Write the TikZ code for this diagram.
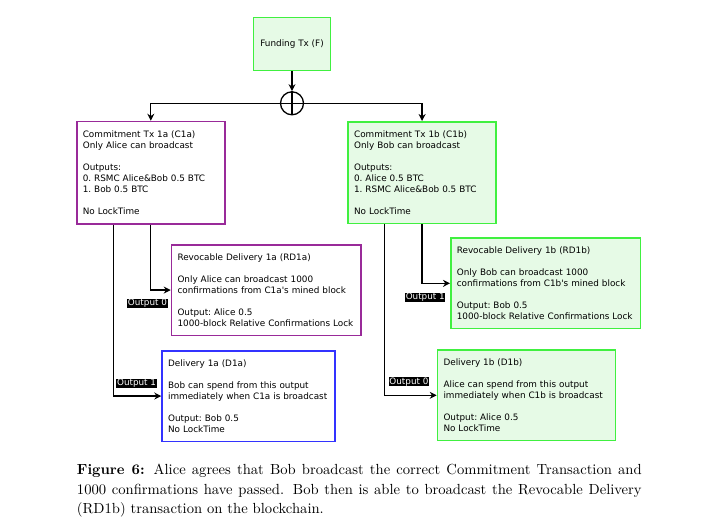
\documentclass[tikz,border=0pt]{standalone}
\usepackage{fontspec}
\newfontfamily\diagfont{DejaVu Sans}
\usetikzlibrary{calc,arrows.meta}

\definecolor{txgreen}{HTML}{40F040}
\definecolor{txgreenfill}{HTML}{E6FAE6}
\definecolor{txpurple}{HTML}{992A99}
\definecolor{txblue}{HTML}{3333FF}

\tikzset{%
	every tx/.style={
		draw,
		line width=1.6pt,
		anchor=north west,
		align=left,
		inner xsep=6pt,
		font=\diagfont\frenchspacing\fontsize{8.85}{11}\selectfont
	},
	tx green/.style={draw=txgreen, fill=txgreenfill},
	tx purple/.style={draw=txpurple, fill=white},
	tx blue/.style={draw=txblue, fill=white},
	output tag/.style={
		fill=black,
		text=white,
		inner xsep=0.6pt,
		inner ysep=0.3pt,
		font=\diagfont\fontsize{8.8}{9}\selectfont
	},
	caption text/.style={
		anchor=north west,
		inner sep=0pt,
		transform shape,
		scale=1.463,
		text width=386pt,
		align=justify,
		font=\fontsize{10}{13.1}\selectfont
	},
}

\begin{document}
\begin{tikzpicture}[x=1pt, y=-1pt, >={Stealth[length=7pt,width=7pt]}, line width=1.3pt]
	
	\useasboundingbox (0,0) rectangle (720,524);
	
	\node [every tx, tx green, anchor=center, align=center, minimum width=77pt, minimum height=53pt] (funding) at (292,44) {Funding Tx (F)};
	
	\node [draw, circle, minimum size=23pt, inner sep=0pt] (join) at (292,103.3) {};
	
	\node [every tx, tx purple, text width=136pt, minimum height=102.5pt] (c1a) at (76,120.7)
	{Commitment Tx 1a (C1a)\\Only Alice can broadcast\\[11pt]Outputs:\\0. RSMC Alice\&Bob 0.5 BTC\\1. Bob 0.5 BTC\\[11pt]No LockTime};
	
	\node [every tx, tx green, text width=136pt, minimum height=101.7pt] (c1b) at (347.3,121)
	{Commitment Tx 1b (C1b)\\Only Bob can broadcast\\[11pt]Outputs:\\0. Alice 0.5 BTC\\1. RSMC Alice\&Bob 0.5 BTC\\[11pt]No LockTime};
	
	\node [every tx, tx purple, text width=177.5pt, minimum height=90.5pt] (rd1a) at (170.7,244)
	{Revocable Delivery 1a (RD1a)\\[11pt]Only Alice can broadcast 1000\\confirmations from C1a's mined block\\[11pt]Output: Alice 0.5\\1000-block Relative Confirmations Lock};
	
	\node [every tx, tx blue, text width=161pt, minimum height=90.5pt] (d1a) at (161.3,350)
	{Delivery 1a (D1a)\\[11pt]Bob can spend from this output\\immediately when C1a is broadcast\\[11pt]Output: Bob 0.5\\No LockTime};
	
	\node [every tx, tx green, text width=177.5pt, minimum height=90.5pt] (rd1b) at (450,237.3)
	{Revocable Delivery 1b (RD1b)\\[11pt]Only Bob can broadcast 1000\\confirmations from C1b's mined block\\[11pt]Output: Bob 0.5\\1000-block Relative Confirmations Lock};
	
	\node [every tx, tx green, text width=166pt, minimum height=90.5pt] (d1b) at (436.7,349.3)
	{Delivery 1b (D1b)\\[11pt]Alice can spend from this output\\immediately when C1b is broadcast\\[11pt]Output: Alice 0.5\\No LockTime};
	
	% funding splits into both commitments
	\draw [->] (funding) -- (join);
	\draw (join.north) -- (join.south);
	\draw (join.west) -- (join.east);
	\draw [->] (join.west) -| (c1a);
	\draw [->] (join.east) -| (c1b);
	
	\foreach \c/\r/\d in {c1a/rd1a/d1a, c1b/rd1b/d1b}
	{
		\draw [->] (\c.south) |- (\r);
		\draw [->] ($(\c.south west)!.25!(\c.south east)$) |- (\d);
	}
	
	\node [output tag, anchor=north east] (tag-rd1a) at ([xshift=-2.5pt, yshift=-8pt]rd1a.west) {Output 0};
	\node [output tag, anchor=south east] (tag-d1a) at ([xshift=-4pt, yshift=7.5pt]d1a.west) {Output 1};
	\node [output tag, anchor=north east] (tag-rd1b) at ([xshift=-4pt, yshift=-9pt]rd1b.west) {Output 1};
	\node [output tag, anchor=south east] (tag-d1b) at ([xshift=-7pt, yshift=8.5pt]d1b.west) {Output 0};
	
	\node [caption text] (caption) at (76,463.5)
	{{\bfseries Figure 6:} Alice agrees that Bob broadcast the correct Commitment Transaction and\linebreak 1000 confirmations have passed. Bob then is able to broadcast the Revocable Delivery\linebreak (RD1b) transaction on the blockchain.};
	
\end{tikzpicture}
\end{document}
